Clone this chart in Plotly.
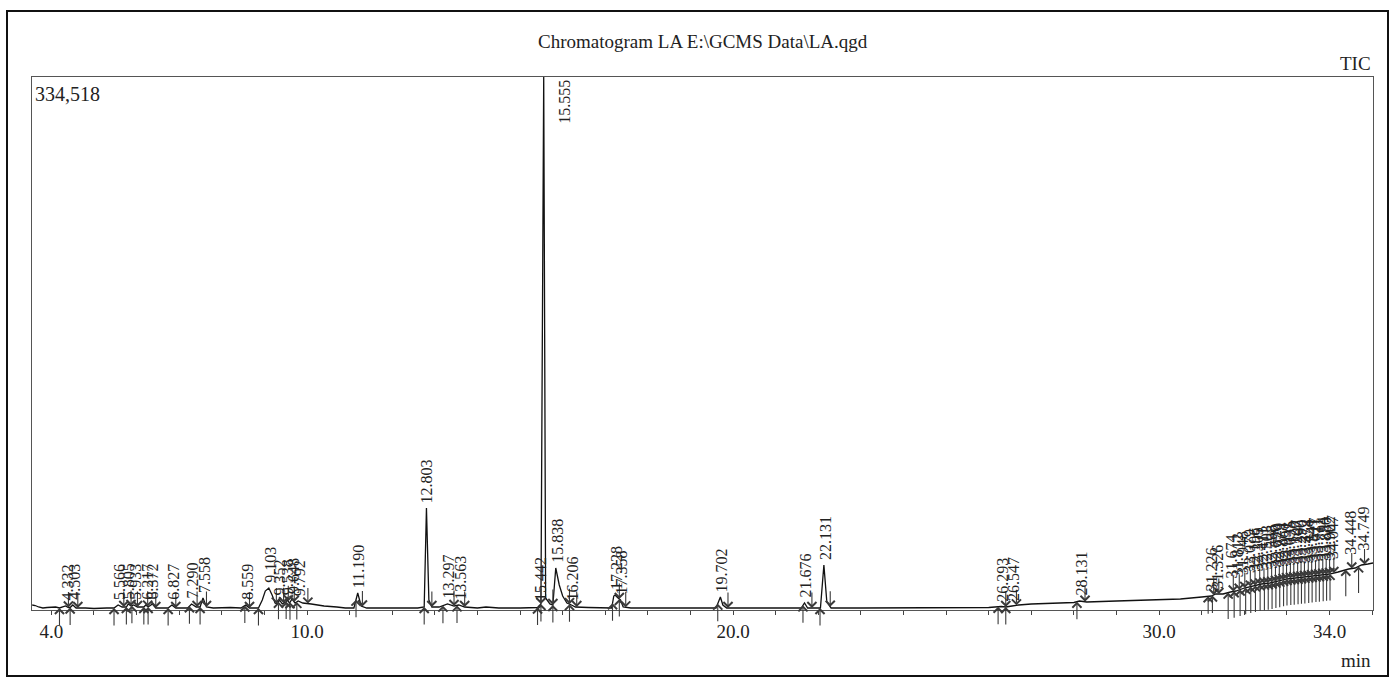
import numpy as np
import plotly.graph_objects as go

# ---------------- data ----------------
time_min = [3.55, 3.62, 3.70, 3.80, 3.90, 4.00, 4.10, 4.19, 4.332, 4.40, 4.44, 4.503, 4.58, 4.80, 5.00,
            5.30, 5.47, 5.566, 5.66, 5.76, 5.805, 5.87, 5.933, 6.02, 6.17, 6.217, 6.27, 6.372, 6.45,
            6.74, 6.827, 6.92, 7.20, 7.290, 7.40, 7.49, 7.558, 7.64, 7.80, 8.20, 8.45, 8.559, 8.65,
            8.86, 8.95, 9.02, 9.103, 9.18, 9.25, 9.30, 9.352, 9.42, 9.50, 9.538, 9.59, 9.648, 9.72,
            9.792, 9.90, 10.10, 10.40, 10.70, 10.90, 11.10, 11.190, 11.27, 11.40, 11.80, 12.20, 12.60,
            12.75, 12.803, 12.86, 12.93, 13.10, 13.297, 13.45, 13.563, 13.70, 14.00, 14.20, 14.50,
            15.00, 15.30, 15.41, 15.442, 15.49, 15.555, 15.60, 15.70, 15.77, 15.838, 15.92, 16.00,
            16.10, 16.206, 16.30, 16.60, 17.00, 17.15, 17.20, 17.228, 17.30, 17.358, 17.42, 17.60,
            18.00, 19.00, 19.60, 19.702, 19.76, 19.85, 20.30, 21.00, 21.60, 21.676, 21.75, 22.05,
            22.131, 22.20, 22.30, 23.00, 24.00, 25.00, 26.00, 26.293, 26.40, 26.547, 26.70, 27.00,
            27.50, 28.00, 28.131, 28.30, 29.00, 29.50, 30.00, 30.50, 31.00, 31.226, 31.326, 31.50,
            31.674, 31.80, 32.00, 32.20, 32.40, 32.60, 32.80, 33.00, 33.20, 33.40, 33.60, 33.80,
            34.00, 34.20, 34.448, 34.60, 34.749, 34.90, 35.02]
tic_counts = [3140, 2820, 1880, 1260, 1570, 1880, 1880, 1260, 2510, 1570, 1570, 3140, 1260, 1260, 940,
              1260, 1260, 3140, 1880, 1880, 3770, 2510, 3140, 1880, 1880, 3140, 1880, 3770, 1260,
              1260, 3140, 1260, 1260, 3770, 1880, 1880, 7530, 1880, 1260, 1570, 1260, 3140, 1260,
              1260, 6280, 11920, 13810, 9410, 4390, 3770, 6280, 3770, 5020, 6280, 4390, 6900, 4390,
              5650, 4390, 3770, 2510, 1880, 1260, 1260, 10670, 2510, 1260, 1260, 1260, 1260,
              1880, 64020, 6280, 1880, 1880, 3770, 2510, 3140, 1880, 1260, 1880, 1260,
              1260, 1260, 1570, 2510, 3770, 334518, 7530, 3770, 3140, 26360, 15690, 8790,
              4390, 3140, 1880, 1570, 1260, 1260, 8790, 9410, 7530, 6280, 1880, 1260,
              1260, 1260, 1260, 8160, 3140, 1260, 1260, 1260, 1260, 4390, 1260, 1260,
              28240, 5020, 1260, 1260, 1260, 1260, 1570, 2200, 1880, 2510, 3140, 3770,
              4390, 4710, 5650, 5020, 5650, 5960, 6280, 6900, 8160, 8790, 10040, 10040,
              11300, 11920, 13810, 15060, 16320, 16950, 18200, 19460, 20080, 20710, 21340, 21970,
              22590, 23850, 25730, 26360, 28240, 28870, 29500]

peak_labels = ["4.332", "4.503", "5.566", "5.805", "5.933", "6.217", "6.372", "6.827", "7.290", "7.558",
               "8.559", "9.103", "9.352", "9.538", "9.648", "9.792", "11.190", "12.803", "13.297",
               "13.563", "15.442", "15.555", "15.838", "16.206", "17.228", "17.358", "19.702",
               "21.676", "22.131", "26.293", "26.547", "28.131",
               "31.226", "31.326", "31.674", "31.812", "31.948", "32.079", "32.196", "32.305",
               "32.411", "32.503", "32.598", "32.690", "32.779", "32.868", "32.951", "33.035",
               "33.120", "33.207", "33.290", "33.372", "33.458", "33.541", "33.627", "33.711",
               "33.794", "33.880", "33.962", "34.047", "34.448", "34.749"]
peak_start = [4.19, 4.44, 5.47, 5.76, 5.89, 6.17, 6.27, 6.74, 7.24, 7.49,
              8.54, 8.86, 9.33, 9.51, 9.60, 9.76, 11.15, 12.75, 13.19,
              13.52, 15.41, 15.49, 15.77, 16.16, 17.17, 17.33, 19.64,
              21.64, 22.04, 26.22, 26.40, 28.07,
              31.15, 31.25, 31.62, 31.76, 31.90, 32.03, 32.15, 32.26,
              32.37, 32.47, 32.56, 32.65, 32.74, 32.83, 32.92, 33.00,
              33.09, 33.17, 33.26, 33.34, 33.42, 33.51, 33.59, 33.68,
              33.76, 33.85, 33.93, 34.01, 34.38, 34.68]
peak_end = [4.40, 4.62, 5.70, 5.87, 6.02, 6.26, 6.45, 6.92, 7.42, 7.64,
            8.65, 9.28, 9.45, 9.56, 9.70, 10.02, 11.30, 12.93, 13.45,
            13.70, 15.49, 15.77, 16.16, 16.33, 17.33, 17.48, 19.88,
            21.85, 22.28, 26.40, 26.65, 28.26,
            31.28, 31.40, 31.74, 31.88, 32.01, 32.14, 32.25, 32.36,
            32.46, 32.55, 32.64, 32.73, 32.82, 32.91, 32.99, 33.08,
            33.16, 33.25, 33.33, 33.41, 33.50, 33.58, 33.67, 33.75,
            33.84, 33.92, 34.00, 34.10, 34.52, 34.82]

tick_vals = list(range(4, 36))
tick_label_map = {4: "4.0", 10: "10.0", 20: "20.0", 30: "30.0", 34: "34.0"}
y_max = 334518
x_range = [3.545, 35.019]

# ---------------- figure ----------------
SERIF = "Liberation Serif"
fig = go.Figure()
fig.add_trace(go.Scatter(x=time_min, y=tic_counts, mode="lines",
                         line=dict(color="#111111", width=1.3), hoverinfo="skip",
                         showlegend=False))

t_arr = np.array(time_min)
c_arr = np.array(tic_counts, dtype=float)
annotations = []

# integration arrows
for s in peak_start:
    v = float(np.interp(s, t_arr, c_arr))
    annotations.append(dict(x=s, y=v, xref="x", yref="y", text="", showarrow=True,
                            ax=0, ay=28 if s > 31.5 else 19, arrowhead=4, arrowsize=1.6,
                            arrowwidth=1.1, arrowcolor="#3a3a3a"))
for e in peak_end:
    v = float(np.interp(e, t_arr, c_arr))
    annotations.append(dict(x=e, y=v, xref="x", yref="y", text="", showarrow=True,
                            ax=0, ay=-17, arrowhead=4, arrowsize=1.6, arrowwidth=1.1,
                            arrowcolor="#3a3a3a"))

# peak labels
for lab in peak_labels:
    rt = float(lab)
    if lab == "15.555":
        annotations.append(dict(x=rt, y=y_max, xref="x", yref="y", text=lab, textangle=-90,
                                showarrow=False, xanchor="center", yanchor="top",
                                xshift=20, yshift=-1,
                                font=dict(family=SERIF, size=16, color="#222222")))
        continue
    v = float(np.interp(rt, t_arr, c_arr))
    annotations.append(dict(x=rt, y=v, xref="x", yref="y", text=lab, textangle=-90,
                            showarrow=False, xanchor="center", yanchor="bottom",
                            xshift=1, yshift=12 if rt > 31.5 else 3,
                            font=dict(family=SERIF, size=16, color="#222222")))

# texts
annotations.append(dict(x=0.5, y=(610 - 42) / 533, xref="paper", yref="paper",
                        text="Chromatogram LA E:\\GCMS Data\\LA.qgd", showarrow=False,
                        xanchor="center", yanchor="middle",
                        font=dict(family=SERIF, size=19, color="#222222")))
annotations.append(dict(x=1, y=1, xref="paper", yref="paper", text="TIC", showarrow=False,
                        xanchor="right", yanchor="bottom", yshift=1,
                        font=dict(family=SERIF, size=19, color="#222222")))
annotations.append(dict(x=0, y=1, xref="paper", yref="paper", text="334,518",
                        showarrow=False, xanchor="left", yanchor="top", xshift=1, yshift=-4,
                        font=dict(family=SERIF, size=20, color="#222222")))
annotations.append(dict(x=1, y=(610 - 660) / 533, xref="paper", yref="paper", text="min",
                        showarrow=False, xanchor="right", yanchor="middle",
                        font=dict(family=SERIF, size=19, color="#222222")))

# outer frame
shapes = [dict(type="rect", xref="paper", yref="paper",
               x0=(7 - 32) / 1341, x1=(1388 - 32) / 1341,
               y0=(610 - 676) / 533, y1=(610 - 11) / 533,
               line=dict(color="#111111", width=2), fillcolor="rgba(0,0,0,0)", layer="below")]

fig.update_layout(
    width=1392, height=680,
    margin=dict(l=32, r=19, t=77, b=70),
    paper_bgcolor="white", plot_bgcolor="white",
    showlegend=False,
    annotations=annotations,
    shapes=shapes,
    xaxis=dict(range=x_range, showgrid=False, zeroline=False,
               showline=True, mirror=True, linecolor="#555555", linewidth=1,
               ticks="outside", ticklen=4, tickcolor="#444444",
               tickvals=tick_vals,
               ticktext=[tick_label_map.get(v, "") for v in tick_vals],
               ticklabelstandoff=0,
               tickfont=dict(family=SERIF, size=19, color="#222222")),
    yaxis=dict(range=[0, y_max], showgrid=False, zeroline=False,
               showline=True, mirror=True, linecolor="#555555", linewidth=1,
               ticks="", showticklabels=False),
)

fig.write_html("out.html", config={"displayModeBar": False},
               post_script="document.body.style.margin='0px';document.body.style.overflow='hidden';")
